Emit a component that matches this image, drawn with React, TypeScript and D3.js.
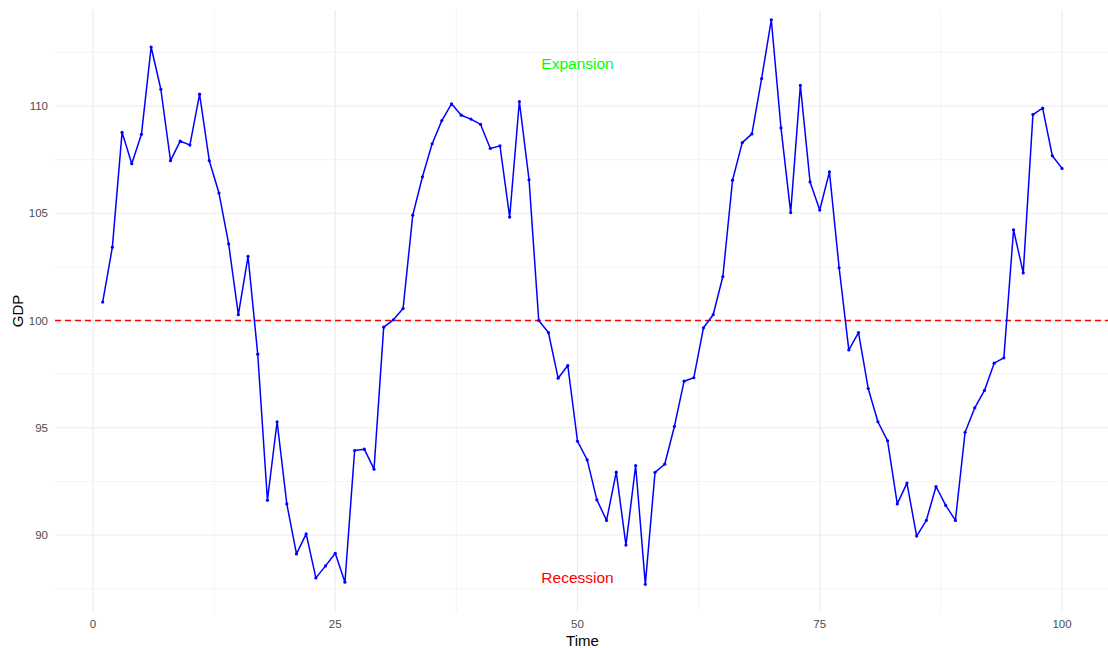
import React from "react";
import * as d3 from "d3";

const gdp: number[] = [
  100.86, 103.42, 108.77, 107.31, 108.68, 112.75, 110.78, 107.45, 108.36, 108.18,
  110.55, 107.45, 105.94, 103.57, 100.27, 102.99, 98.43, 91.62, 95.28, 91.45,
  89.12, 90.05, 88.0, 88.56, 89.15, 87.8, 93.94, 94.0, 93.07, 99.69,
  100.03, 100.56, 104.91, 106.7, 108.24, 109.32, 110.1, 109.57, 109.39, 109.14,
  108.02, 108.14, 104.82, 110.21, 106.56, 100.0, 99.44, 97.31, 97.9, 94.37,
  93.5, 91.64, 90.68, 92.93, 89.53, 93.24, 87.7, 92.92, 93.3, 95.06,
  97.17, 97.33, 99.66, 100.27, 102.05, 106.54, 108.29, 108.7, 111.28, 114.02,
  108.98, 105.03, 110.96, 106.46, 105.15, 106.93, 102.46, 98.63, 99.44, 96.83,
  95.28, 94.39, 91.45, 92.42, 89.95, 90.68, 92.26, 91.38, 90.68, 94.79,
  95.93, 96.74, 98.01, 98.26, 104.23, 102.22, 109.6, 109.9, 107.68, 107.09,
];
const time: number[] = gdp.map((_, i) => i + 1);

const xTicks: number[] = [0, 25, 50, 75, 100];
const xMinor: number[] = [12.5, 37.5, 62.5, 87.5];
const yTicks: number[] = [90, 95, 100, 105, 110];
const yMinor: number[] = [87.5, 92.5, 97.5, 102.5, 107.5, 112.5];
const threshold = 100;
const annotations = [
  { label: "Expansion", t: 50, v: 112, color: "#00FF00" },
  { label: "Recession", t: 50, v: 88, color: "#FF0000" },
];

const W = 1108;
const H = 648;
const panelLeft = 55;
const panelRight = 1110;
const panelTop = 10;
const panelBottom = 612;

export default function App() {
  const x = d3.scaleLinear().domain([0, 100]).range([93, 1062]);
  const y = d3.scaleLinear().domain([90, 110]).range([535, 106]);
  const line = d3
    .line<number>()
    .x((_, i) => x(time[i]))
    .y((d) => y(d));
  const font = "'Liberation Sans', Arial, Helvetica, sans-serif";
  const panelCx = (panelLeft + panelRight) / 2;
  const panelCy = (panelTop + panelBottom) / 2;

  return (
    <svg
      width={W}
      height={H}
      style={{ position: "absolute", left: 0, top: 0, background: "#fff" }}
      fontFamily={font}
    >
      <rect x={0} y={0} width={W} height={H} fill="#fff" />
      {/* minor grid */}
      {yMinor.map((v) => (
        <line key={"ym" + v} x1={panelLeft} x2={panelRight} y1={y(v)} y2={y(v)} stroke="#ebebeb" strokeWidth={0.55} />
      ))}
      {xMinor.map((v) => (
        <line key={"xm" + v} x1={x(v)} x2={x(v)} y1={panelTop} y2={panelBottom} stroke="#ebebeb" strokeWidth={0.55} />
      ))}
      {/* major grid */}
      {yTicks.map((v) => (
        <line key={"yM" + v} x1={panelLeft} x2={panelRight} y1={y(v)} y2={y(v)} stroke="#ebebeb" strokeWidth={1.1} />
      ))}
      {xTicks.map((v) => (
        <line key={"xM" + v} x1={x(v)} x2={x(v)} y1={panelTop} y2={panelBottom} stroke="#ebebeb" strokeWidth={1.1} />
      ))}
      {/* threshold */}
      <line
        x1={panelLeft}
        x2={panelRight}
        y1={y(threshold)}
        y2={y(threshold)}
        stroke="#FF0000"
        strokeWidth={1.5}
        strokeDasharray="6,4"
      />
      {/* series */}
      <path d={line(gdp) || ""} fill="none" stroke="#0000FF" strokeWidth={1.5} strokeLinejoin="round" />
      {gdp.map((v, i) => (
        <circle key={i} cx={x(time[i])} cy={y(v)} r={1.6} fill="#0000FF" />
      ))}
      {/* annotations */}
      {annotations.map((a) => (
        <text
          key={a.label}
          x={x(a.t)}
          y={y(a.v)}
          textAnchor="middle"
          dominantBaseline="central"
          fontSize={15.5}
          fill={a.color}
        >
          {a.label}
        </text>
      ))}
      {/* axis labels */}
      {yTicks.map((v) => (
        <text key={"yl" + v} x={48} y={y(v)} textAnchor="end" dominantBaseline="central" fontSize={11.5} fill="#4d4d4d">
          {v}
        </text>
      ))}
      {xTicks.map((v) => (
        <text key={"xl" + v} x={x(v)} y={624} textAnchor="middle" dominantBaseline="central" fontSize={11.5} fill="#4d4d4d">
          {v}
        </text>
      ))}
      <text x={panelCx} y={640} textAnchor="middle" dominantBaseline="central" fontSize={15} fill="#000">
        Time
      </text>
      <text
        transform={`translate(17, ${panelCy}) rotate(-90)`}
        textAnchor="middle"
        dominantBaseline="central"
        fontSize={15}
        fill="#000"
      >
        GDP
      </text>
    </svg>
  );
}
